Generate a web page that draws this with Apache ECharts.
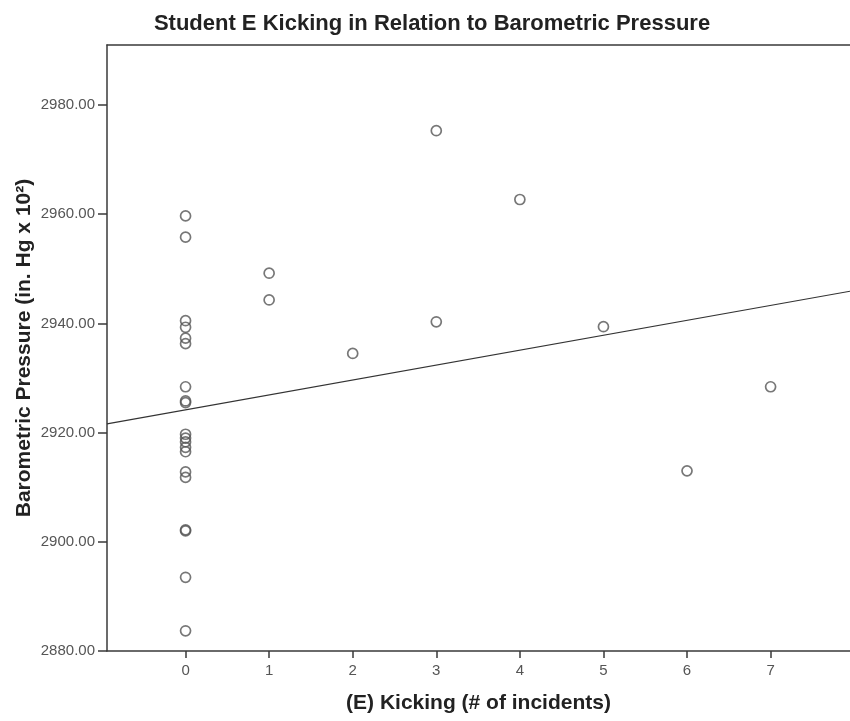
<!DOCTYPE html>
<html>
<head>
<meta charset="utf-8">
<title>Student E Kicking in Relation to Barometric Pressure</title>
<script src="https://cdn.jsdelivr.net/npm/echarts@6/dist/echarts.min.js"></script>
<style>
  html, body { margin: 0; padding: 0; background: #fff; }
  #chart { width: 850px; height: 721px; }
</style>
</head>
<body>
<div id="chart"></div>
<script>
// Kicking incidents per observation day and barometric pressure (in. Hg x 10^2)
const kickingCounts = [
  0, 0, 0, 0, 0, 0, 0, 0, 0, 0,
  0, 0, 0, 0, 0, 0, 0, 0, 0, 0,
  1, 1, 2, 3, 3, 4, 5, 6, 7
];
const pressureValues = [
  2959.7, 2955.8, 2940.5, 2939.3, 2937.3, 2936.3, 2928.4, 2925.8, 2925.5, 2919.7,
  2919.0, 2918.3, 2917.3, 2916.5, 2912.8, 2911.8, 2902.2, 2902.0, 2893.5, 2883.7,
  2949.2, 2944.3, 2934.5, 2975.3, 2940.3, 2962.7, 2939.4, 2913.0, 2928.4
];

// Linear fit line, endpoints at the edges of the plot area
const fitLineX = [-0.94, 7.95];
const fitLineY = [2921.6, 2945.9];

// Axis ticks
const xTicks = [0, 1, 2, 3, 4, 5, 6, 7];
const yTicks = [2880, 2900, 2920, 2940, 2960, 2980];

const scatterData = kickingCounts.map((k, i) => [k, pressureValues[i]]);
const fitData = fitLineX.map((x, i) => [x, fitLineY[i]]);

const FONT = '"Liberation Sans", Arial, sans-serif';
const AXIS_COLOR = '#3a3a3a';

const chart = echarts.init(document.getElementById('chart'), null, { renderer: 'canvas' });

chart.setOption({
  animation: false,
  backgroundColor: '#ffffff',
  title: {
    text: 'Student E Kicking in Relation to Barometric Pressure',
    left: 427,
    top: 8,
    textAlign: 'center',
    textStyle: { fontFamily: FONT, fontSize: 22, fontWeight: 'bold', color: '#222' }
  },
  grid: {
    left: 107, right: -5, top: 45, bottom: 70,
    show: false
  },
  xAxis: [
    {
      type: 'value',
      min: fitLineX[0],
      max: fitLineX[1],
      name: '(E) Kicking (# of incidents)',
      nameLocation: 'middle',
      nameGap: 42,
      nameTextStyle: { fontFamily: FONT, fontSize: 21, fontWeight: 'bold', color: '#222' },
      splitLine: { show: false },
      axisLine: { show: true, onZero: false, lineStyle: { color: AXIS_COLOR, width: 1.5 } },
      axisTick: { show: true, length: 7, customValues: xTicks, lineStyle: { color: AXIS_COLOR, width: 1.5 } },
      axisLabel: {
        customValues: xTicks,
        margin: 12,
        fontFamily: FONT, fontSize: 15, color: '#555',
        formatter: v => String(v)
      }
    },
    {
      // top frame line of the plot area
      type: 'value',
      position: 'top',
      min: fitLineX[0],
      max: fitLineX[1],
      splitLine: { show: false },
      axisLine: { show: true, onZero: false, lineStyle: { color: AXIS_COLOR, width: 1.5 } },
      axisTick: { show: false },
      axisLabel: { show: false }
    }
  ],
  yAxis: {
    type: 'value',
    min: 2880,
    max: 2991,
    name: 'Barometric Pressure (in. Hg x 10²)',
    nameLocation: 'middle',
    nameGap: 72,
    nameMoveOverlap: false,
    nameTextStyle: { fontFamily: FONT, fontSize: 21, fontWeight: 'bold', color: '#222' },
    splitLine: { show: false },
    axisLine: { show: true, onZero: false, lineStyle: { color: AXIS_COLOR, width: 1.5 } },
    axisTick: { show: true, length: 9, customValues: yTicks, lineStyle: { color: AXIS_COLOR, width: 1.5 } },
    axisLabel: {
      customValues: yTicks,
      margin: 12,
      fontFamily: FONT, fontSize: 15, color: '#555',
      formatter: v => v.toFixed(2)
    }
  },
  series: [
    {
      name: 'Fit line',
      type: 'line',
      data: fitData,
      symbol: 'none',
      silent: true,
      z: 1,
      lineStyle: { color: '#333', width: 1.2 }
    },
    {
      name: 'Observations',
      type: 'scatter',
      data: scatterData,
      symbol: 'circle',
      symbolSize: 10,
      z: 2,
      itemStyle: { color: 'transparent', borderColor: '#555', borderWidth: 1.7 }
    }
  ]
});
</script>
</body>
</html>
